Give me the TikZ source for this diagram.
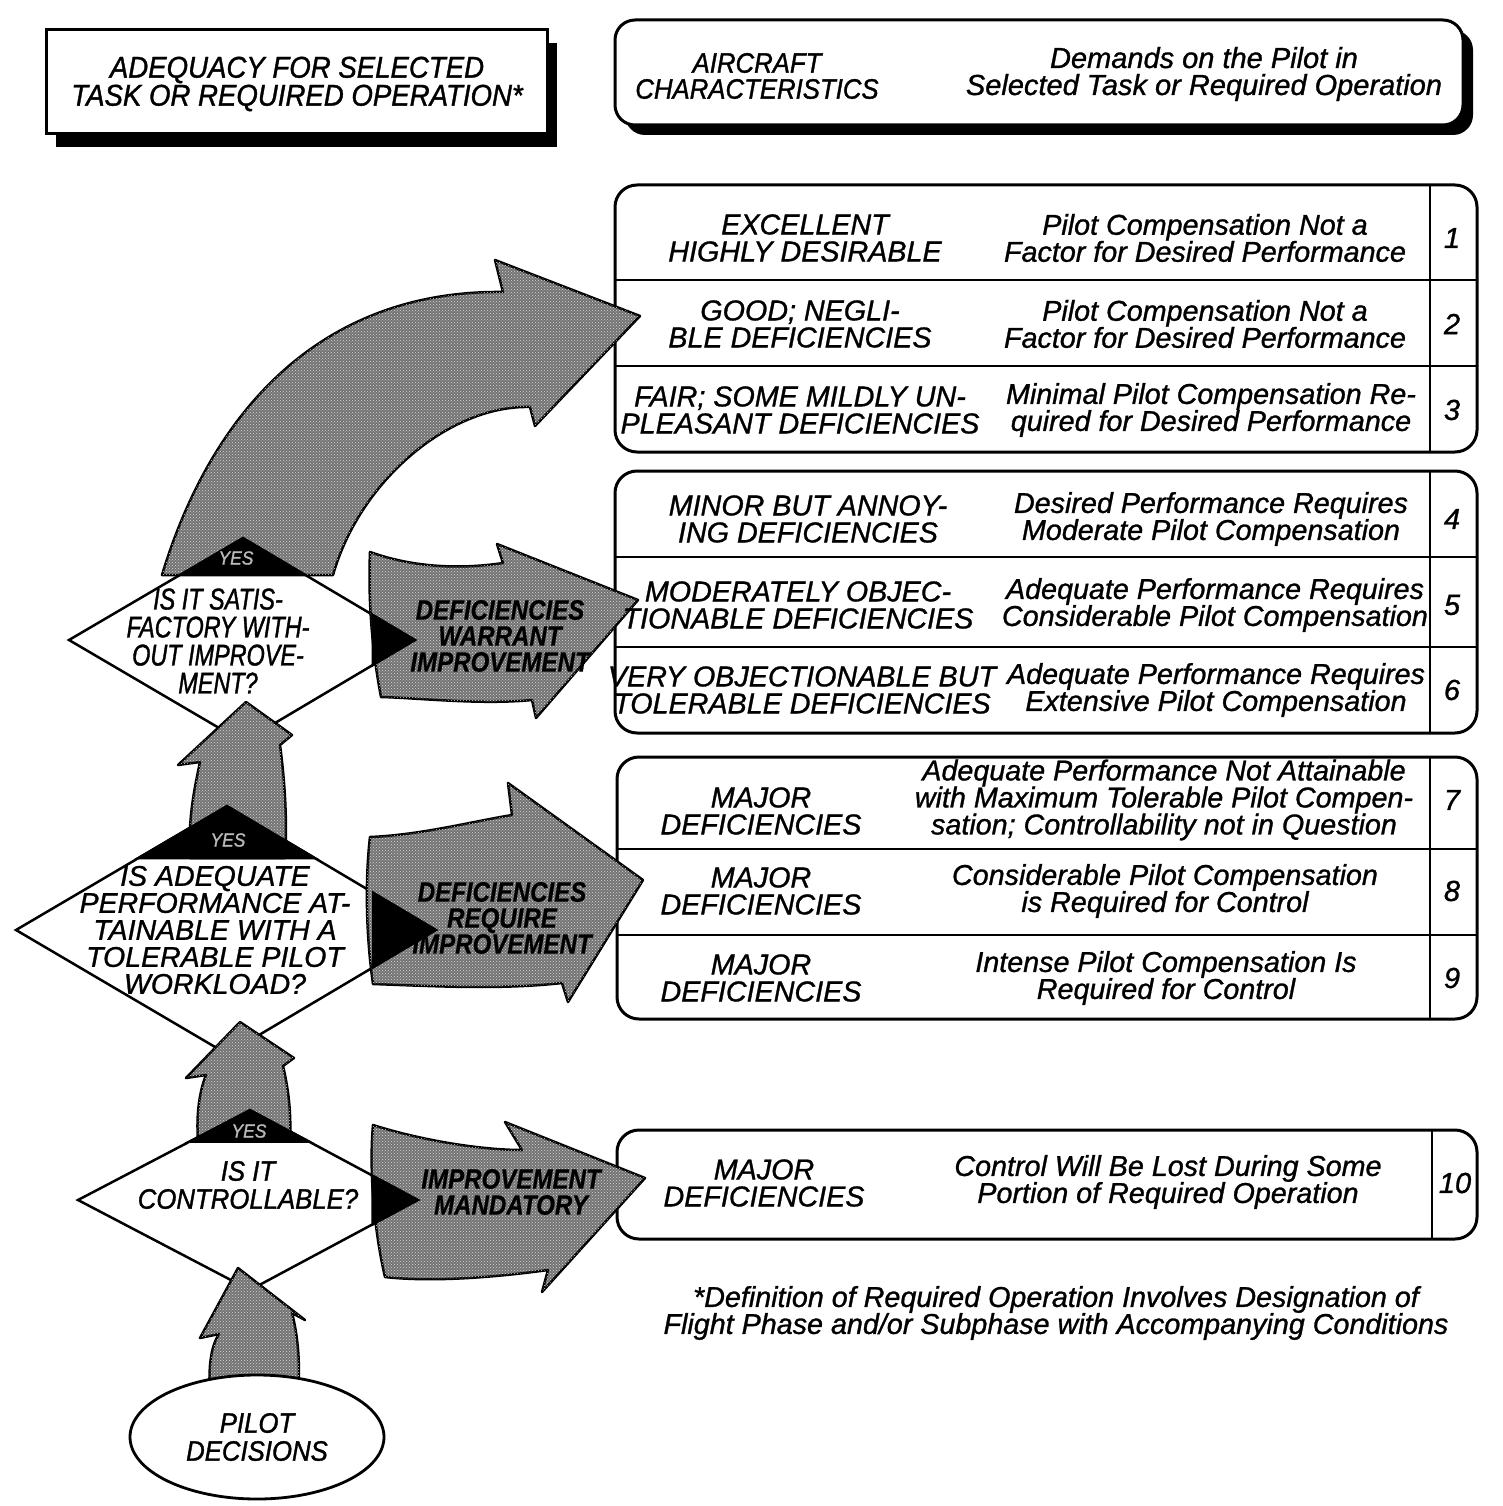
\documentclass[tikz,border=0pt]{standalone}
\usepackage{fontspec}
\setmainfont{Liberation Sans}
\newfontfamily\fReg[FakeBold=1]{Liberation Sans}
\newfontfamily\fCaps[FakeStretch=0.92,FakeBold=1.2]{Liberation Sans}
\newfontfamily\fCond[FakeStretch=0.78,FakeBold=1.2]{Liberation Sans}
\newfontfamily\fArr[FakeStretch=0.86,FakeBold=0.6]{Liberation Sans}
\usetikzlibrary{shapes.geometric,calc,patterns}
\begin{document}
\begin{tikzpicture}[x=1pt,y=-1pt,
  boxframe/.style={draw=black, line width=3pt, fill=white},
  tabline/.style={draw=black, line width=2.2pt},
  garrow/.style={draw=black, line width=2.5pt, line join=round, fill=black!55,
    postaction={pattern=crosshatch dots, pattern color=white!85!black}},
  diam/.style={draw=black, line width=2.5pt, fill=white, line join=miter},
  blk/.style={fill=black, draw=black, line width=2.5pt, line join=miter},
  hdr/.style={font=\fCaps\itshape\fontsize{30}{28}\selectfont, align=center, inner sep=0pt},
  hdrcap/.style={font=\fCaps\itshape\fontsize{28}{26}\selectfont, align=center, inner sep=0pt},
  hdrlow/.style={font=\fReg\itshape\fontsize{29}{27}\selectfont, align=center, inner sep=0pt},
  tabtxt/.style={font=\fReg\itshape\fontsize{28.7}{27}\selectfont, align=center, inner sep=0pt},
  numtxt/.style={font=\fReg\itshape\fontsize{29}{27}\selectfont, inner sep=0pt},
  qone/.style={font=\fCond\itshape\fontsize{30}{28}\selectfont, align=center, inner sep=0pt},
  qtwo/.style={font=\fReg\itshape\fontsize{28.5}{27}\selectfont, align=center, inner sep=0pt},
  qthree/.style={font=\fCaps\itshape\fontsize{28}{28}\selectfont, align=center, inner sep=0pt},
  yeslbl/.style={font=\fCaps\itshape\fontsize{19}{19}\selectfont, text=gray!55, inner sep=0pt},
  arrlbl/.style={font=\fArr\bfseries\itshape\fontsize{28}{26}\selectfont, align=center, inner sep=0pt},
]
\useasboundingbox (0,0) rectangle (1502,1506);
\fill[white] (0,0) rectangle (1502,1506);

% ---------- header boxes ----------
\fill[black] (56,43) rectangle (557,147);
\draw[boxframe] (46,30) rectangle (547,134);
\node[hdr] (adeq) at (297,84) {ADEQUACY FOR SELECTED\\TASK OR REQUIRED OPERATION*};

\fill[black, rounded corners=20pt] (625,30) rectangle (1473,135);
\draw[boxframe, rounded corners=20pt] (615,20) rectangle (1463,125);
\node[hdrcap] (acchar) at (757,76) {AIRCRAFT\\CHARACTERISTICS};
\node[hdrlow] (demands) at (1204,74) {Demands on the Pilot in\\Selected Task or Required Operation};

% ---------- tables ----------
\draw[boxframe, rounded corners=22pt] (615,185) rectangle (1477,452);
\draw[tabline] (615,280) -- (1477,280);
\draw[tabline] (615,366) -- (1477,366);
\draw[tabline] (1430,185) -- (1430,452);

\draw[boxframe, rounded corners=22pt] (615,471) rectangle (1477,733);
\draw[tabline] (615,557) -- (1477,557);
\draw[tabline] (615,647) -- (1477,647);
\draw[tabline] (1430,471) -- (1430,733);

\draw[boxframe, rounded corners=22pt] (617,757) rectangle (1477,1019);
\draw[tabline] (617,849) -- (1477,849);
\draw[tabline] (617,935) -- (1477,935);
\draw[tabline] (1430,757) -- (1430,1019);

\draw[boxframe, rounded corners=22pt] (617,1130) rectangle (1477,1239);
\draw[tabline] (1432,1130) -- (1432,1239);

% ---------- diamonds ----------
\coordinate (d1t) at (243,538); \coordinate (d1r) at (415,640);
\coordinate (d1b) at (243,742); \coordinate (d1l) at (69,640);
\coordinate (d2t) at (227,806); \coordinate (d2r) at (436,930);
\coordinate (d2b) at (227,1054); \coordinate (d2l) at (16,930);
\coordinate (d3t) at (250,1110); \coordinate (d3r) at (418,1200);
\coordinate (d3b) at (250,1290); \coordinate (d3l) at (78,1200);
\draw[diam] (d1t) -- (d1r) -- (d1b) -- (d1l) -- cycle;
\draw[diam] (d2t) -- (d2r) -- (d2b) -- (d2l) -- cycle;
\draw[diam] (d3t) -- (d3r) -- (d3b) -- (d3l) -- cycle;

% ---------- fat arrows ----------
\draw[garrow] (162,575) .. controls (215,400) and (330,290) .. (503,292) -- (495,260) -- (640,316)
  -- (535,426) -- (530,407) .. controls (450,405) and (360,480) .. (333,575) -- cycle;
\draw[garrow] (190,858) .. controls (188,820) and (194,790) .. (200,762) -- (178,765) -- (246,702)
  -- (292,735) -- (280,745) .. controls (286,790) and (287,830) .. (285,858) -- cycle;
\draw[garrow] (198,1141) .. controls (196,1112) and (200,1090) .. (206,1075) -- (186,1078) -- (240,1022)
  -- (294,1058) -- (283,1066) .. controls (290,1095) and (291,1120) .. (290,1141) -- cycle;
\draw[garrow] (210,1395) .. controls (208,1362) and (212,1345) .. (219,1334) -- (200,1338) -- (238,1268)
  -- (305,1320) -- (292,1313) .. controls (299,1340) and (300,1368) .. (298,1395) -- cycle;
\draw[garrow] (370,552) .. controls (420,570) and (470,568) .. (503,563) -- (497,544) -- (638,600)
  -- (536,718) -- (532,700) .. controls (480,705) and (420,698) .. (381,697)
  .. controls (372,650) and (368,600) .. (370,552) -- cycle;
\draw[garrow] (370,837) .. controls (420,835) and (470,822) .. (512,815) -- (508,783) -- (643,880)
  -- (568,1002) -- (562,983) .. controls (500,990) and (430,986) .. (373,984)
  .. controls (366,935) and (365,880) .. (370,837) -- cycle;
\draw[garrow] (373,1125) .. controls (420,1140) and (480,1150) .. (522,1150) -- (505,1122) -- (645,1178)
  -- (542,1292) -- (548,1270) .. controls (490,1278) and (430,1282) .. (385,1277)
  .. controls (374,1230) and (369,1170) .. (373,1125) -- cycle;

% ---------- pilot decisions ----------
\node[ellipse, draw=black, line width=2.8pt, fill=white, minimum width=254pt, minimum height=124pt, qthree]
  (pilot) at (257,1437) {PILOT\\DECISIONS};

% ---------- black caps and tips ----------
\path[blk] (d1t) -- ($(d1t)!0.35!(d1r)$) -- ($(d1t)!0.35!(d1l)$) -- cycle;
\path[blk] (d2t) -- ($(d2t)!0.42!(d2r)$) -- ($(d2t)!0.42!(d2l)$) -- cycle;
\path[blk] (d3t) -- ($(d3t)!0.35!(d3r)$) -- ($(d3t)!0.35!(d3l)$) -- cycle;
\path[blk] (d1r) -- ($(d1r)!0.245!(d1t)$) -- ($(d1r)!0.245!(d1b)$) -- cycle;
\path[blk] (d2r) -- ($(d2r)!0.3!(d2t)$) -- ($(d2r)!0.3!(d2b)$) -- cycle;
\path[blk] (d3r) -- ($(d3r)!0.27!(d3t)$) -- ($(d3r)!0.27!(d3b)$) -- cycle;

\node[yeslbl] (yes1) at (236,558) {YES};
\node[yeslbl] (yes2) at (228,840) {YES};
\node[yeslbl] (yes3) at (249,1131) {YES};

% ---------- diamond texts ----------
\node[qone] (q1) at (218,641) {IS IT SATIS-\\FACTORY WITH-\\OUT IMPROVE-\\MENT?};
\node[qtwo] (q2) at (215,930) {IS ADEQUATE\\PERFORMANCE AT-\\TAINABLE WITH A\\TOLERABLE PILOT\\WORKLOAD?};
\node[qthree] (q3) at (248,1185) {IS IT\\CONTROLLABLE?};

% ---------- arrow labels ----------
\node[arrlbl] (warrant) at (500,636) {DEFICIENCIES\\WARRANT\\IMPROVEMENT};
\node[arrlbl] (require) at (502,918) {DEFICIENCIES\\REQUIRE\\IMPROVEMENT};
\node[arrlbl] (mandatory) at (511,1192) {IMPROVEMENT\\MANDATORY};

% ---------- table texts ----------
\node[tabtxt] (r1l) at (805,238) {EXCELLENT\\HIGHLY DESIRABLE};
\node[tabtxt] (r1r) at (1205,238) {Pilot Compensation Not a\\Factor for Desired Performance};
\node[numtxt] (n1) at (1452,238) {1};
\node[tabtxt] (r2l) at (800,324) {GOOD; NEGLI-\\BLE DEFICIENCIES};
\node[tabtxt] (r2r) at (1205,324) {Pilot Compensation Not a\\Factor for Desired Performance};
\node[numtxt] (n2) at (1452,324) {2};
\node[tabtxt] (r3l) at (800,410) {FAIR; SOME MILDLY UN-\\PLEASANT\hspace{8pt}DEFICIENCIES};
\node[tabtxt] (r3r) at (1211,410) {Minimal Pilot Compensation Re-\\quired for Desired Performance};
\node[numtxt] (n3) at (1452,410) {3};

\node[tabtxt] (r4l) at (808,519) {MINOR BUT ANNOY-\\ING DEFICIENCIES};
\node[tabtxt] (r4r) at (1211,519) {Desired Performance Requires\\Moderate Pilot Compensation};
\node[numtxt] (n4) at (1452,519) {4};
\node[tabtxt] (r5l) at (798,605) {MODERATELY OBJEC-\\TIONABLE DEFICIENCIES};
\node[tabtxt] (r5r) at (1215,605) {Adequate Performance Requires\\Considerable Pilot Compensation};
\node[numtxt] (n5) at (1452,605) {5};
\node[tabtxt] (r6l) at (802,690) {VERY OBJECTIONABLE BUT\\TOLERABLE DEFICIENCIES};
\node[tabtxt] (r6r) at (1216,690) {Adequate Performance Requires\\Extensive Pilot Compensation};
\node[numtxt] (n6) at (1452,690) {6};

\node[tabtxt] (r7l) at (761,811) {MAJOR\\DEFICIENCIES};
\node[tabtxt] (r7r) at (1164,800) {Adequate Performance Not Attainable\\with Maximum Tolerable Pilot Compen-\\sation; Controllability not in Question};
\node[numtxt] (n7) at (1452,800) {7};
\node[tabtxt] (r8l) at (761,891) {MAJOR\\DEFICIENCIES};
\node[tabtxt] (r8r) at (1165,891) {Considerable Pilot Compensation\\is Required for Control};
\node[numtxt] (n8) at (1452,891) {8};
\node[tabtxt] (r9l) at (761,978) {MAJOR\\DEFICIENCIES};
\node[tabtxt] (r9r) at (1166,978) {Intense Pilot Compensation Is\\Required for Control};
\node[numtxt] (n9) at (1452,978) {9};

\node[tabtxt] (r10l) at (764,1183) {MAJOR\\DEFICIENCIES};
\node[tabtxt] (r10r) at (1168,1182) {Control Will Be Lost During Some\\Portion of Required Operation};
\node[numtxt] (n10) at (1455,1183) {10};

\node[tabtxt] (foot) at (1056,1313) {*Definition of Required Operation Involves Designation of\\Flight Phase and/or Subphase with Accompanying Conditions};
\end{tikzpicture}
\end{document}
